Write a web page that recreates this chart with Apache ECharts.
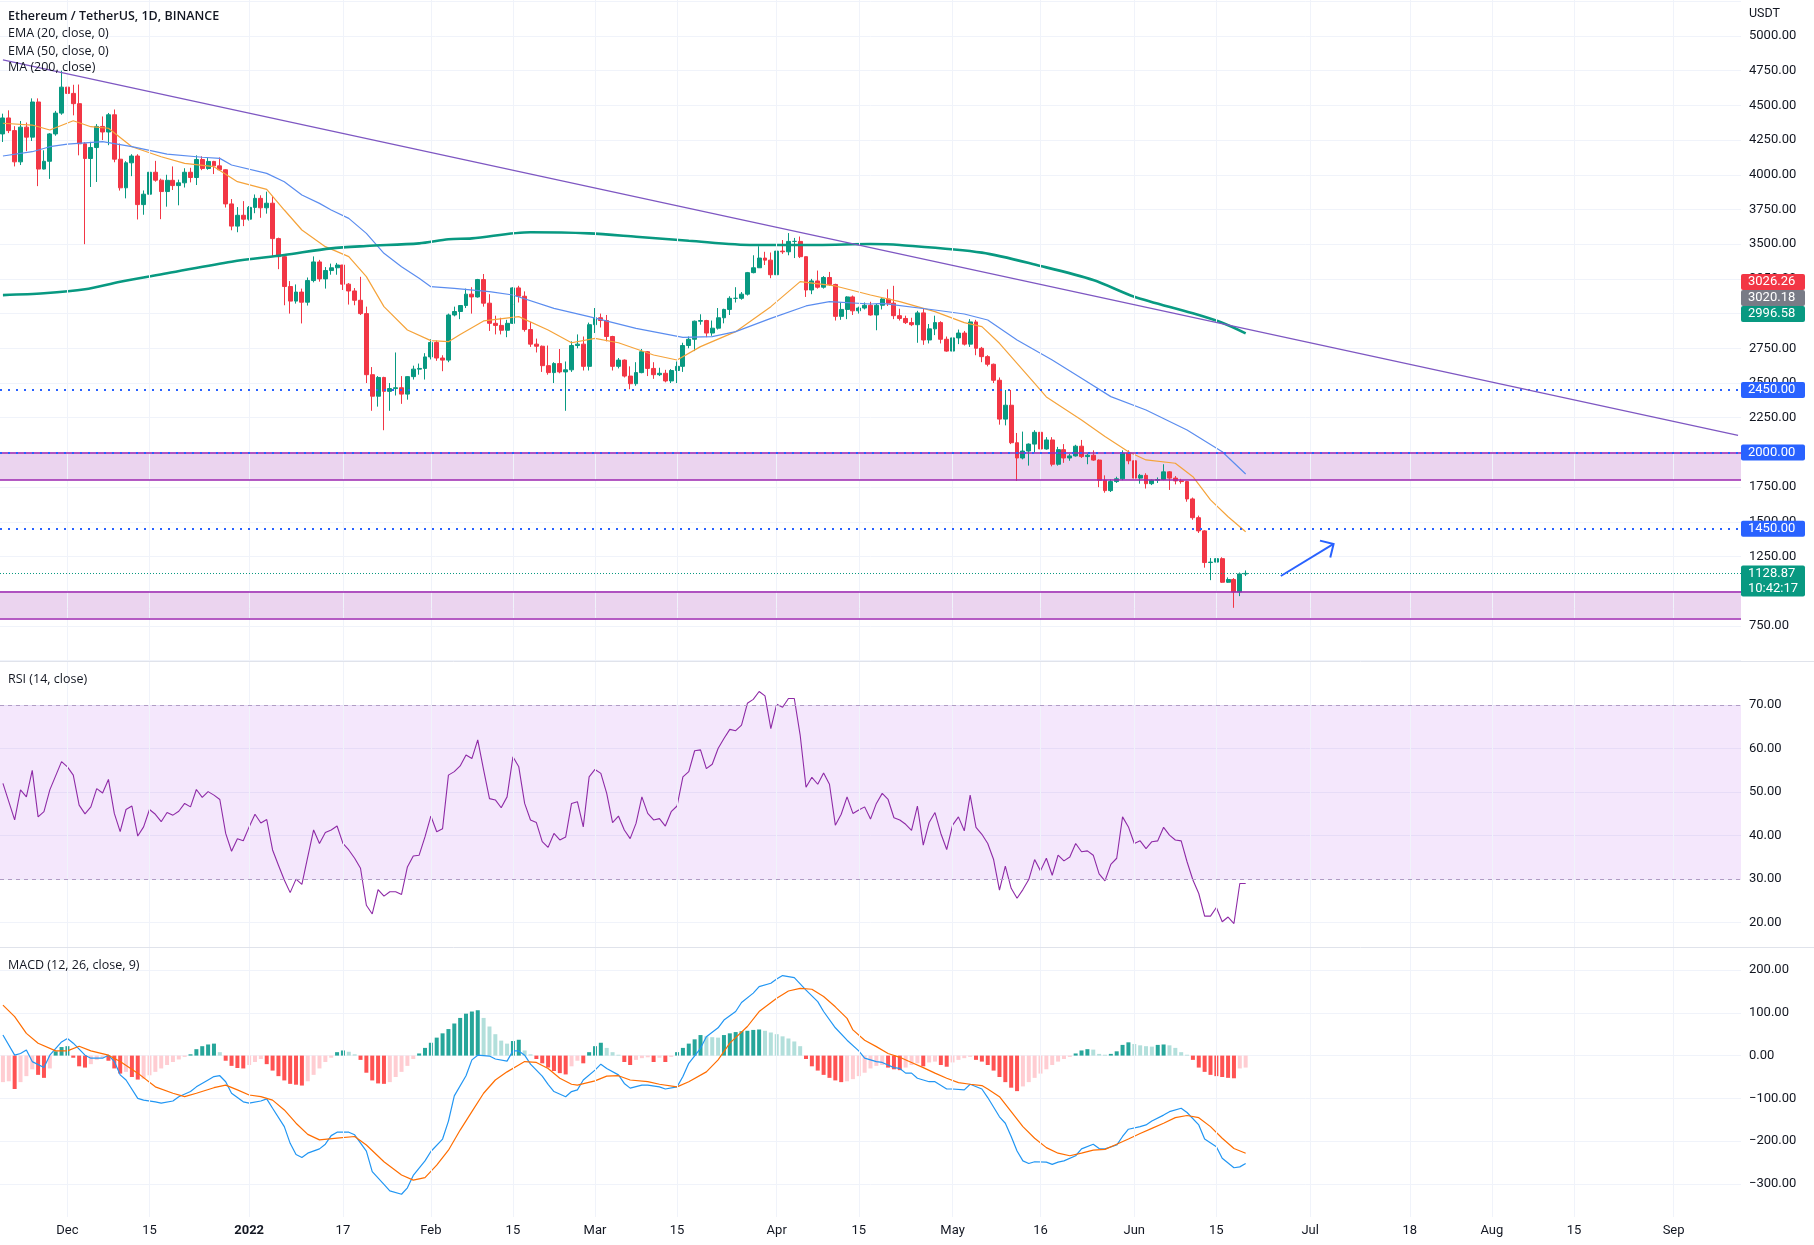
<!DOCTYPE html>
<html>
<head>
<meta charset="utf-8">
<title>ETHUSDT 1D</title>
<script src="https://cdn.jsdelivr.net/npm/echarts@6/dist/echarts.min.js"></script>
<style>
  html, body { margin: 0; padding: 0; background: #fff; }
  #chart { width: 1814px; height: 1245px; }
</style>
</head>
<body>
<div id="chart"></div>
<script>
// ---- values (one row / value per day, first day 2021-11-20) ----

// [open, high, low, close]
const ohlc = [
  [4294,4440,4236,4409],[4409,4464,4300,4318],[4318,4350,4060,4093],[4093,4387,4070,4343],[4343,4376,4170,4271],[4271,4550,4243,4524],[4524,4550,3918,4041],[4041,4176,4038,4097],[4097,4300,3970,4294],[4294,4460,4281,4444],
  [4444,4750,4432,4631],[4631,4778,4500,4586],[4586,4648,4428,4512],[4512,4650,4140,4223],[4223,4235,3500,4117],[4117,4237,3912,4196],[4196,4365,3948,4348],[4348,4420,4250,4308],[4308,4445,4213,4432],[4432,4470,4090,4112],
  [4112,4225,3886,3906],[3906,4098,3830,4086],[4086,4148,3990,4135],[4135,4148,3678,3785],[3785,3887,3712,3860],[3860,4100,3640,4018],[4018,4100,3950,3961],[3961,3972,3680,3879],[3879,4000,3770,3960],[3960,4060,3890,3922],
  [3922,3965,3780,3942],[3942,4047,3908,4018],[4018,4050,3945,3980],[3980,4140,3926,4110],[4110,4133,4033,4045],[4045,4125,4036,4096],[4096,4100,4005,4064],[4064,4125,4030,4036],[4036,4040,3764,3790],[3790,3825,3600,3630],
  [3630,3767,3586,3708],[3708,3810,3630,3680],[3680,3775,3670,3765],[3765,3858,3723,3830],[3830,3852,3690,3762],[3762,3878,3720,3795],[3795,3845,3410,3540],[3540,3547,3320,3410],[3410,3417,3060,3195],[3195,3234,3000,3090],
  [3090,3210,3072,3155],[3155,3180,2929,3082],[3082,3260,3058,3238],[3238,3412,3225,3372],[3372,3387,3230,3250],[3250,3335,3180,3310],[3310,3360,3280,3330],[3330,3365,3280,3350],[3350,3350,3170,3212],[3212,3220,3065,3163],
  [3163,3184,3060,3096],[3096,3265,2990,3000],[3000,3050,2500,2560],[2560,2615,2300,2405],[2405,2550,2330,2540],[2540,2545,2160,2440],[2440,2500,2300,2460],[2460,2720,2410,2466],[2466,2550,2350,2420],[2420,2550,2380,2546],
  [2546,2625,2525,2600],[2600,2640,2560,2605],[2605,2715,2525,2688],[2688,2815,2670,2792],[2792,2805,2660,2680],[2680,2700,2585,2665],[2665,3000,2650,2990],[2990,3050,2980,3015],[3015,3060,2960,3058],[3058,3180,3040,3140],
  [3140,3190,3000,3120],[3120,3250,3115,3245],[3245,3285,3050,3075],[3075,3140,2875,2930],[2930,2985,2850,2915],[2915,2970,2850,2880],[2880,2955,2830,2930],[2930,3190,2925,3185],[3185,3200,3080,3125],[3125,3160,2870,2885],
  [2885,2940,2760,2780],[2780,2820,2720,2765],[2765,2770,2580,2625],[2625,2770,2560,2575],[2575,2650,2500,2640],[2640,2745,2570,2580],[2580,2655,2300,2595],[2595,2800,2580,2770],[2770,2850,2750,2780],[2780,2835,2590,2620],
  [2620,2935,2590,2920],[2920,3040,2860,2970],[2970,3000,2900,2950],[2950,2990,2800,2835],[2835,2840,2590,2620],[2620,2680,2605,2665],[2665,2670,2540,2550],[2550,2620,2455,2495],[2495,2650,2480,2575],[2575,2745,2570,2725],
  [2725,2730,2550,2605],[2605,2650,2530,2560],[2560,2610,2550,2570],[2570,2595,2505,2515],[2515,2600,2500,2590],[2590,2655,2500,2620],[2620,2790,2580,2770],[2770,2835,2750,2815],[2815,2950,2730,2945],[2945,2995,2920,2950],
  [2950,2955,2830,2860],[2860,2950,2840,2895],[2895,3040,2885,2970],[2970,3035,2930,3030],[3030,3125,2990,3110],[3110,3190,3080,3110],[3110,3155,3100,3140],[3140,3300,3130,3295],[3295,3420,3290,3330],[3330,3485,3330,3400],
  [3400,3445,3350,3385],[3385,3440,3255,3280],[3280,3470,3210,3450],[3450,3530,3430,3445],[3445,3580,3420,3520],[3520,3545,3400,3520],[3520,3555,3400,3410],[3410,3410,3120,3170],[3170,3250,3140,3235],[3235,3310,3180,3190],
  [3190,3270,3180,3260],[3260,3300,3200,3210],[3210,3215,2950,2980],[2980,3080,2955,3030],[3030,3125,2960,3120],[3120,3130,2990,3020],[3020,3050,3000,3040],[3040,3080,3030,3060],[3060,3085,2985,2990],[2990,3070,2880,3060],
  [3060,3110,3030,3105],[3105,3175,3055,3075],[3075,3200,2960,2985],[2985,3035,2950,2965],[2965,2985,2925,2935],[2935,2970,2910,2920],[2920,3020,2790,3005],[3005,3040,2775,2810],[2810,2925,2785,2890],[2890,2985,2845,2935],
  [2935,2945,2785,2815],[2815,2835,2725,2730],[2730,2845,2720,2825],[2825,2885,2780,2860],[2860,2875,2770,2780],[2780,2960,2760,2940],[2940,2955,2700,2750],[2750,2760,2650,2690],[2690,2700,2620,2635],[2635,2640,2500,2520],
  [2520,2540,2200,2240],[2240,2450,2195,2340],[2340,2450,2060,2070],[2070,2140,1795,1960],[1960,2150,1950,2010],[2010,2065,1905,2060],[2060,2160,2000,2145],[2145,2145,1990,2025],[2025,2110,2020,2090],[2090,2110,1900,1915],
  [1915,2040,1905,2020],[2020,2060,1925,1960],[1960,1990,1940,1975],[1975,2055,1970,2045],[2045,2090,1960,1970],[1970,1990,1915,1980],[1980,2015,1940,1945],[1945,1950,1750,1800],[1800,1835,1710,1725],[1725,1805,1715,1790],
  [1790,1825,1780,1810],[1810,2015,1800,1995],[1995,2015,1915,1940],[1940,1970,1780,1815],[1815,1845,1775,1835],[1835,1850,1740,1775],[1775,1805,1765,1800],[1800,1820,1780,1805],[1805,1915,1800,1860],[1860,1865,1730,1815],
  [1815,1830,1770,1795],[1795,1810,1775,1790],[1790,1795,1645,1665],[1665,1675,1515,1530],[1530,1545,1420,1435],[1435,1440,1170,1207],[1207,1240,1080,1210],[1210,1245,1015,1235],[1235,1245,1060,1065],[1065,1100,1060,1085],
  [1085,1095,881,995],[995,1135,965,1125],[1125,1150,1110,1128.87]
]

// moving averages, [day index, value]
const ema20 = [[0,4371],[5,4358],[8,4322],[12,4389],[15,4346],[18,4335],[22,4202],[27,4130],[31,4082],[36,4058],[40,3950],[45,3895],[48,3746],[51,3602],[55,3482],[59,3410],[62,3266],[65,3050],[69,2882],[73,2805],[76,2798],[78,2850],[82,2947],[88,2978],[93,2882],[97,2790],[101,2822],[105,2790],[111,2702],[115,2666],[119,2762],[125,2870],[131,3050],[136,3230],[142,3199],[148,3134],[153,3086],[159,3014],[164,2935],[167,2906],[170,2786],[173,2642],[176,2498],[178,2400],[184,2234],[188,2114],[192,2005],[195,1946],[200,1922],[203,1825],[206,1658],[209,1537],[212,1429]]
const ema50 = [[0,4135],[5,4166],[8,4202],[11,4221],[17,4238],[22,4202],[28,4149],[34,4126],[37,4118],[39,4070],[45,4010],[48,3950],[51,3854],[54,3794],[56,3746],[59,3686],[62,3578],[65,3434],[68,3338],[71,3254],[73,3194],[77,3182],[83,3158],[87,3134],[94,3038],[100,2978],[108,2894],[116,2829],[121,2834],[125,2870],[131,2966],[137,3055],[141,3086],[148,3069],[150,3074],[159,3026],[164,2997],[168,2954],[173,2810],[179,2666],[184,2534],[189,2402],[195,2306],[202,2162],[208,2005],[212,1845]]
const ma200 = [[0,3133],[7,3146],[14,3175],[20,3230],[28,3290],[39,3374],[48,3422],[56,3470],[62,3487],[71,3506],[76,3535],[80,3542],[90,3586],[100,3578],[108,3554],[117,3525],[128,3494],[139,3494],[148,3501],[153,3494],[167,3439],[177,3343],[186,3242],[193,3122],[203,3002],[208,2934],[212,2858]]

// RSI (14), per day
const rsi = [
  52,null,43.6,50.5,48.9,55,44.3,45.5,50.5,null,
  57,55.8,53.9,47,45,46.6,50.8,49.8,52.9,45.1,
  40.9,46,46.8,39.9,42,46,44.9,43.2,45.3,44.7,
  45.6,47.4,46.6,50.6,48.8,50.1,49.3,48.3,40.5,36.4,
  39.3,38.8,42,44.9,42.9,43.7,36.7,33.2,29.8,26.9,
  30,28.8,35.1,41.3,38.2,40.7,41.3,42.2,38.2,36.7,
  34.8,32.5,24,22,27.6,26.1,27.1,27.1,26.5,32.8,
  35.3,35.5,39.7,44.5,40.9,41.6,53.9,54.7,56,58.5,
  57.7,62,55.1,48.5,48.2,46.4,48.9,58.1,55.8,47.4,
  43.6,43,38.6,37.3,40.5,39,39.7,47.4,47.8,42,
  53.5,55.2,54.3,49.7,43,44.5,41.3,39.3,42.8,48.9,
  45.1,43.6,43.9,42.2,45.5,46.8,53.5,54.7,59.5,59.7,
  55.4,56.4,60,62.3,64.4,64.1,65.4,70.4,71.3,73.1,
  72.1,64.6,70.2,69.5,71.5,71.5,63.1,51.1,53.4,51.8,
  54.4,51.8,42.4,44.9,48.9,45.1,45.9,46.6,43.8,47.4,
  49.7,48.3,44.1,43.6,42.6,41.2,46.8,37.8,43,45.3,
  40.5,36.8,42.4,44.3,41.1,49.3,41.9,40.3,38.2,34.5,
  27.5,33,27.9,25.6,27.6,29.9,34.5,31.9,34.8,30.9,
  35.5,34.2,35.1,38.2,36.3,36.5,35.5,31.2,29.6,33.4,
  34.8,44.3,42,38.2,38.8,37,38.6,38.8,41.9,40.1,
  39,38.8,34,29.8,26.7,21.5,21.5,23.5,20.2,21.3,
  19.8,29,29
]

// MACD (12, 26, 9): lines as [day index, value], histogram per day
const macdLine = [[0,48],[2,1],[3,5],[4,13],[5,-14],[7,-28],[8,1],[10,32],[11,40],[12,29],[14,1],[15,-6],[17,-6],[18,1],[19,-14],[20,-45],[21,-57],[23,-100],[24,-104],[26,-108],[27,-111],[29,-106],[30,-96],[32,-84],[33,-73],[35,-57],[36,-49],[37,-47],[38,-61],[39,-88],[41,-108],[42,-111],[44,-106],[45,-101],[46,-123],[48,-166],[49,-205],[50,-231],[51,-238],[52,-228],[54,-218],[55,-207],[56,-187],[57,-179],[59,-179],[60,-185],[62,-223],[63,-271],[65,-301],[66,-316],[68,-324],[69,-309],[70,-280],[72,-246],[73,-224],[75,-195],[76,-153],[77,-94],[79,-47],[80,-10],[81,1],[83,-1],[84,-8],[86,-13],[87,11],[88,11],[89,1],[90,-20],[92,-48],[93,-67],[94,-84],[96,-96],[97,-84],[98,-80],[99,-57],[101,-34],[102,-20],[103,-30],[105,-45],[106,-65],[107,-76],[109,-69],[110,-69],[112,-73],[113,-78],[115,-73],[116,-49],[117,-18],[119,17],[120,44],[122,65],[123,83],[125,103],[126,124],[128,146],[129,161],[131,169],[132,179],[133,187],[135,182],[137,153],[139,126],[140,103],[142,65],[144,36],[146,11],[147,-6],[149,-14],[150,-16],[152,-28],[153,-30],[154,-41],[155,-41],[156,-53],[158,-61],[159,-61],[161,-78],[162,-78],[164,-80],[165,-67],[167,-78],[168,-98],[170,-143],[171,-158],[172,-189],[173,-223],[174,-246],[175,-252],[176,-248],[178,-249],[179,-254],[180,-249],[181,-246],[183,-234],[184,-218],[186,-207],[187,-217],[188,-218],[190,-209],[191,-189],[192,-172],[194,-166],[195,-162],[196,-153],[198,-139],[199,-131],[201,-123],[202,-133],[204,-162],[205,-195],[207,-213],[208,-240],[210,-262],[211,-260],[212,-252]]
const signalLine = [[0,118],[2,91],[4,52],[6,29],[9,11],[11,11],[13,22],[15,11],[18,1],[20,-14],[23,-41],[26,-73],[29,-88],[31,-96],[33,-88],[36,-75],[38,-69],[40,-80],[42,-92],[44,-96],[46,-104],[48,-127],[50,-158],[52,-184],[54,-197],[57,-193],[60,-189],[62,-209],[65,-248],[68,-279],[70,-291],[72,-285],[74,-256],[76,-221],[78,-174],[80,-131],[82,-88],[84,-57],[86,-38],[88,-22],[89,-14],[91,-16],[93,-30],[95,-53],[97,-67],[98,-69],[101,-59],[103,-48],[105,-47],[107,-57],[110,-61],[112,-67],[115,-73],[117,-61],[120,-38],[122,-10],[124,29],[127,68],[129,103],[132,134],[134,151],[136,157],[138,155],[140,138],[142,114],[144,87],[145,60],[147,36],[149,21],[151,5],[153,-4],[155,-16],[157,-28],[159,-41],[161,-53],[163,-63],[165,-67],[167,-70],[168,-78],[170,-96],[172,-131],[174,-166],[176,-193],[178,-215],[180,-228],[182,-234],[184,-228],[186,-221],[188,-219],[190,-207],[192,-195],[194,-182],[196,-170],[198,-158],[200,-145],[202,-140],[204,-145],[206,-166],[208,-193],[210,-217],[212,-228]]
const macdHist = [
  -62,-60,-78,-62,-48,-32,-45,-52,-30,10,
  20,22,-5,-25,-28,-20,-10,-5,-12,-30,
  -42,-38,-50,-56,-54,-46,-38,-30,-22,-15,
  -9,-3,3,15,22,26,28,8,-12,-24,
  -29,-30,-22,-15,-8,-20,-35,-48,-58,-66,
  -68,-70,-60,-45,-30,-15,-5,8,12,9,
  3,-10,-40,-58,-65,-66,-62,-50,-38,-24,
  -8,5,18,30,42,52,62,75,88,98,
  103,106,88,68,50,35,28,34,37,12,
  3,-8,-18,-28,-36,-41,-44,-25,-12,-18,
  8,22,30,18,8,2,-15,-22,-10,-6,
  -4,-15,-5,-15,-3,8,18,28,38,48,
  45,43,42,48,52,55,57,58,60,61,
  58,54,50,45,40,33,22,-8,-25,-35,
  -45,-52,-58,-62,-60,-55,-48,-40,-30,-24,
  -22,-28,-32,-34,-28,-22,-18,-25,-16,-14,
  -22,-26,-16,-10,-6,-3,-10,-14,-22,-35,
  -50,-62,-75,-83,-72,-62,-52,-42,-32,-22,
  -14,-8,-3,5,12,15,14,4,2,4,
  10,25,31,27,24,22,21,25,26,24,
  18,8,2,-10,-28,-38,-45,-48,-50,-52,
  -53,-30,-28
]

// time axis labels
const tickDates = ['2021-12-01','2021-12-15','2022-01-01','2022-01-17','2022-02-01','2022-02-15','2022-03-01','2022-03-15','2022-04-01','2022-04-15','2022-05-01','2022-05-16','2022-06-01','2022-06-15','2022-07-01','2022-07-18','2022-08-01','2022-08-15','2022-09-01']
const tickLabels = ['Dec','15','2022','17','Feb','15','Mar','15','Apr','15','May','16','Jun','15','Jul','18','Aug','15','Sep']

// drawn levels and zones
const dottedLevels = [2450, 2000, 1450]
const upperZone = [1800, 2000]
const lowerZone = [805, 1000]
const lastPrice = 1128.87
const upperChannel = [[0, 4827], [296, 2123]]
const lowerChannel = [[0, 2757], [242, 492]]
const arrowPts = [[218, 1110], [227, 1341]]

// ---- build ----
const dates = []
const day0 = Date.UTC(2021, 10, 20)
for (let i = 0; i < 297; i++) {
  dates.push(new Date(day0 + i * 86400000).toISOString().slice(0, 10))
}
const tickText = {}
tickDates.forEach((d, k) => { tickText[d] = tickLabels[k] })

const FONT = 'Roboto, sans-serif'
const TXT = '#131722'
const GRIDC = '#f0f3fa'
const UP = '#089981'
const DOWN = '#f23645'
const NONE = 'rgba(0,0,0,0)'

const pairs = arr => arr.map(p => [dates[p[0]], p[1]])
const candles = ohlc.map(r => [r[0], r[3], r[2], r[1]])
const histData = macdHist.map((v, i) => {
  const prev = i > 0 ? macdHist[i - 1] : v
  let c
  if (v >= 0) c = v > prev ? '#26a69a' : '#b2dfdb'
  else c = v < prev ? '#ff5252' : '#ffcdd2'
  return {value: v, itemStyle: {color: c}}
})

const grids = [
  {left: 0, width: 1741, top: 1.2, height: 659.5},      // price 500..5250
  {left: 0, width: 1741, top: 661.5, height: 304.7},    // rsi 10..80
  {left: 0, width: 1741, top: 927.2, height: 299.6},    // macd -400..300
  {left: 0, width: 1741, top: 0, height: 1217}          // time axis + vertical grid
].map(g => Object.assign(g, {containLabel: false, outerBoundsMode: 'none'}))

const xAxes = [0, 1, 2, 3].map(g => ({
  type: 'category',
  gridIndex: g,
  data: dates,
  boundaryGap: true,
  axisLine: {show: false},
  axisTick: {show: false},
  splitLine: {show: false},
  axisLabel: g === 3 ? {
    show: true,
    interval: (idx, val) => tickText[val] !== undefined,
    formatter: val => val === '2022-01-01' ? '{b|2022}' : (tickText[val] || ''),
    margin: 7,
    color: TXT,
    fontSize: 13,
    fontFamily: FONT,
    rich: {b: {fontWeight: 'bold', fontSize: 13, fontFamily: FONT, color: TXT}}
  } : {show: false}
}))

const yLabel = {color: TXT, fontSize: 13, fontFamily: FONT, margin: 8, showMinLabel: false, showMaxLabel: false}
const yAxes = [
  {
    type: 'value', gridIndex: 0, position: 'right', min: 500, max: 5250, interval: 250, z: 0,
    axisLine: {show: false}, axisTick: {show: false},
    axisLabel: Object.assign({formatter: v => v.toFixed(2)}, yLabel),
    splitLine: {lineStyle: {color: GRIDC}}
  },
  {
    type: 'value', gridIndex: 1, position: 'right', min: 10, max: 80, interval: 10,
    axisLine: {show: false}, axisTick: {show: false},
    axisLabel: Object.assign({formatter: v => v.toFixed(2)}, yLabel),
    splitLine: {lineStyle: {color: [NONE, GRIDC, GRIDC, GRIDC, GRIDC, GRIDC, GRIDC, NONE]}}
  },
  {
    type: 'value', gridIndex: 2, position: 'right', min: -400, max: 300, interval: 100,
    axisLine: {show: false}, axisTick: {show: false},
    axisLabel: Object.assign({formatter: v => (v < 0 ? '\u2212' : '') + Math.abs(v).toFixed(2)}, yLabel),
    splitLine: {lineStyle: {color: [NONE, GRIDC, GRIDC, GRIDC, GRIDC, GRIDC, GRIDC, NONE]}}
  },
  {type: 'value', gridIndex: 3, min: 0, max: 1, show: false}
]

const hLine = (v, color, type, width) => ({yAxis: v, lineStyle: {color: color, type: type, width: width}})
const segLine = (pts, color) => [
  {coord: [dates[pts[0][0]], pts[0][1]], lineStyle: {color: color, type: 'solid', width: 1.2}},
  {coord: [dates[pts[1][0]], pts[1][1]]}
]
const ZONE = '#9c27b0'
const BLUE = '#2962ff'

const series = [
  { // vertical grid lines behind everything
    type: 'line', xAxisIndex: 3, yAxisIndex: 3, data: [], z: 0, silent: true,
    markLine: {
      silent: true, symbol: ['none', 'none'], label: {show: false}, animation: false,
      lineStyle: {color: GRIDC, type: 'solid', width: 1},
      data: tickDates.map(d => ({xAxis: d}))
    }
  },
  {
    name: 'ETHUSDT', type: 'candlestick', xAxisIndex: 0, yAxisIndex: 0,
    data: candles, barWidth: 4.4,
    itemStyle: {color: UP, color0: DOWN, borderColor: UP, borderColor0: DOWN, borderWidth: 1},
    markArea: {
      silent: true,
      itemStyle: {color: 'rgba(156,39,176,0.2)'},
      data: [
        [{yAxis: upperZone[0]}, {yAxis: upperZone[1]}],
        [{yAxis: lowerZone[0]}, {yAxis: lowerZone[1]}]
      ]
    },
    markLine: {
      silent: true, symbol: ['none', 'none'], label: {show: false}, animation: false,
      data: [
        hLine(upperZone[0], ZONE, 'solid', 1.5),
        hLine(upperZone[1], ZONE, 'solid', 1.5),
        hLine(lowerZone[0], ZONE, 'solid', 1.5),
        hLine(lowerZone[1], ZONE, 'solid', 1.5),
        hLine(dottedLevels[0], BLUE, [2, 6], 2),
        hLine(dottedLevels[1], BLUE, [2, 6], 2),
        hLine(dottedLevels[2], BLUE, [2, 6], 2),
        hLine(lastPrice, UP, [1, 2], 1),
        segLine(upperChannel, '#7e57c2'),
        segLine(lowerChannel, '#7e57c2')
      ]
    }
  },
  {name: 'EMA20', type: 'line', xAxisIndex: 0, yAxisIndex: 0, data: pairs(ema20), symbol: 'none', lineStyle: {color: '#f5a33a', width: 1.2}},
  {name: 'EMA50', type: 'line', xAxisIndex: 0, yAxisIndex: 0, data: pairs(ema50), symbol: 'none', lineStyle: {color: '#5b8def', width: 1.2}},
  {name: 'MA200', type: 'line', xAxisIndex: 0, yAxisIndex: 0, data: pairs(ma200), symbol: 'none', smooth: 0.3, lineStyle: {color: UP, width: 2.6}},
  {
    name: 'RSI', type: 'line', xAxisIndex: 1, yAxisIndex: 1, data: rsi, connectNulls: true,
    symbol: 'none', lineStyle: {color: '#8e2aa6', width: 1.1},
    markArea: {silent: true, itemStyle: {color: 'rgba(155,38,230,0.11)'}, data: [[{yAxis: 30}, {yAxis: 70}]]},
    markLine: {
      silent: true, symbol: ['none', 'none'], label: {show: false}, animation: false,
      lineStyle: {color: '#b09cc4', type: [4, 4], width: 1},
      data: [{yAxis: 70}, {yAxis: 30}]
    }
  },
  {name: 'Histogram', type: 'bar', xAxisIndex: 2, yAxisIndex: 2, data: histData, barWidth: 4},
  {name: 'MACD', type: 'line', xAxisIndex: 2, yAxisIndex: 2, data: pairs(macdLine), symbol: 'none', lineStyle: {color: '#2196f3', width: 1.2}},
  {name: 'Signal', type: 'line', xAxisIndex: 2, yAxisIndex: 2, data: pairs(signalLine), symbol: 'none', lineStyle: {color: '#ff6d00', width: 1.2}}
]

const chart = echarts.init(document.getElementById('chart'))
chart.setOption({
  animation: false,
  backgroundColor: '#ffffff',
  grid: grids,
  xAxis: xAxes,
  yAxis: yAxes,
  series: series
})

// ---- overlay: legends, separators, price tags, arrow ----
const yPx = v => chart.convertToPixel({yAxisIndex: 0}, v)
const toPx = p => chart.convertToPixel({xAxisIndex: 0, yAxisIndex: 0}, [dates[p[0]], p[1]])
const TOP = {zlevel: 1, z: 100}

function txt(x, y, text, font, fill) {
  return Object.assign({type: 'text', x: x, y: y, silent: true,
    style: {text: text, font: font, fill: fill || TXT, verticalAlign: 'middle'}}, TOP)
}
// price tags: rect + text placed directly (no group) so they sit above the axis labels
function tag(out, yc, lines, bg) {
  const h = 16 * lines.length - (lines.length - 1)
  out.push(Object.assign({type: 'rect', silent: true, shape: {x: 1741, y: yc - 8, width: 64, height: h, r: 2}, style: {fill: bg}}, TOP))
  lines.forEach((s, k) => out.push(Object.assign({type: 'text', silent: true, x: 1748, y: yc + k * 15,
    style: {text: s, font: '13px ' + FONT, fill: '#ffffff', verticalAlign: 'middle'}}, {zlevel: 1, z: 101})))
}

const legendFont = '12.5px "Open Sans", sans-serif'
const graphics = [
  Object.assign({type: 'line', silent: true, shape: {x1: 0, y1: 661.5, x2: 1814, y2: 661.5}, style: {stroke: '#e0e3eb', lineWidth: 1}}, TOP),
  Object.assign({type: 'line', silent: true, shape: {x1: 0, y1: 947.5, x2: 1814, y2: 947.5}, style: {stroke: '#e0e3eb', lineWidth: 1}}, TOP),
  txt(8, 16, 'Ethereum / TetherUS, 1D, BINANCE', '600 12.5px "Open Sans", sans-serif'),
  txt(8, 33.5, 'EMA (20, close, 0)', legendFont),
  txt(8, 51, 'EMA (50, close, 0)', legendFont),
  txt(8, 67.5, 'MA (200, close)', legendFont),
  txt(8, 679, 'RSI (14, close)', legendFont),
  txt(8, 965, 'MACD (12, 26, close, 9)', legendFont),
  txt(1749, 14, 'USDT', '12.5px ' + FONT)
]

const stackY = yPx(2996.58)
tag(graphics, stackY - 32, ['3026.26'], DOWN)
tag(graphics, stackY - 16, ['3020.18'], '#787b86')
tag(graphics, stackY, ['2996.58'], UP)
dottedLevels.forEach(v => tag(graphics, yPx(v), [v.toFixed(2)], BLUE))
tag(graphics, yPx(lastPrice), [lastPrice.toFixed(2), '10:42:17'], UP)

// hand-drawn arrow
const a0 = toPx(arrowPts[0])
const a1 = toPx(arrowPts[1])
const ang = Math.atan2(a0[1] - a1[1], a0[0] - a1[0])
const arm = 14
const head1 = [a1[0] + arm * Math.cos(ang + Math.PI / 4), a1[1] + arm * Math.sin(ang + Math.PI / 4)]
const head2 = [a1[0] + arm * Math.cos(ang - Math.PI / 4), a1[1] + arm * Math.sin(ang - Math.PI / 4)]
graphics.push(Object.assign({type: 'polyline', silent: true, shape: {points: [a0, a1]}, style: {stroke: BLUE, lineWidth: 2, fill: null}}, TOP))
graphics.push(Object.assign({type: 'polyline', silent: true, shape: {points: [head1, a1, head2]}, style: {stroke: BLUE, lineWidth: 2, fill: null}}, TOP))

chart.setOption({graphic: graphics})
</script>
</body>
</html>
